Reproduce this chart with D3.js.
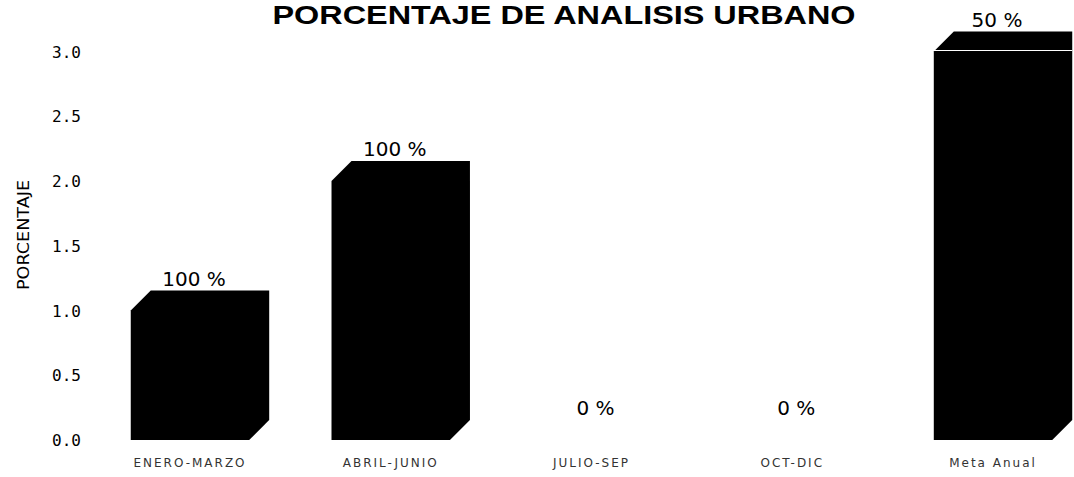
<!DOCTYPE html>
<html>
<head>
<meta charset="utf-8">
<script src="https://cdn.jsdelivr.net/npm/d3@7"></script>
<style>
  html, body { margin: 0; padding: 0; background: #fff; overflow: hidden; }
</style>
</head>
<body>
<div id="chart"></div>
<script>
// data
const categories = ["ENERO-MARZO", "ABRIL-JUNIO", "JULIO-SEP", "OCT-DIC", "Meta Anual"];
const values = [1, 2, 0, 0, 3];
const valueLabels = ["100 %", "100 %", "0 %", "0 %", "50 %"];
const yTicks = [0, 0.5, 1, 1.5, 2, 2.5, 3];

const W = 1074, H = 477;
const depth = 20; // 3d offset of the boxes

const svg = d3.select("#chart").append("svg")
  .attr("width", W)
  .attr("height", H);

const x = d3.scaleBand()
  .domain(categories)
  .range([89.6, 1093.4])
  .paddingInner(0.41)
  .paddingOuter(0.205);

const y = d3.scaleLinear()
  .domain([0, 3])
  .range([440, 51.5]);

// title sits right at the top edge
svg.append("text")
  .attr("x", 564)
  .attr("y", 24)
  .attr("text-anchor", "middle")
  .attr("font-family", "Liberation Sans, Arial, sans-serif")
  .attr("font-weight", "bold")
  .attr("font-size", 25)
  .attr("textLength", 583)
  .attr("lengthAdjust", "spacingAndGlyphs")
  .text("PORCENTAJE DE ANALISIS URBANO");

// y axis, no line, only labels
const yAxis = d3.axisLeft(y)
  .tickValues(yTicks)
  .tickFormat(d3.format(".1f"))
  .tickSize(0)
  .tickPadding(0);

const gy = svg.append("g")
  .attr("transform", "translate(81,0)")
  .call(yAxis);
gy.select(".domain").remove();
gy.selectAll("text")
  .attr("font-family", "DejaVu Sans Mono, monospace")
  .attr("font-size", 16)
  .attr("fill", "#000")
  .attr("dy", "0.35em");

svg.append("text")
  .attr("transform", "translate(29,235)rotate(-90)")
  .attr("text-anchor", "middle")
  .attr("font-family", "DejaVu Sans, sans-serif")
  .attr("font-size", 15)
  .attr("textLength", 110)
  .attr("lengthAdjust", "spacingAndGlyphs")
  .text("PORCENTAJE");

// boxes
const bars = categories.map((c, i) => ({ cat: c, v: values[i], lab: valueLabels[i] }));

svg.append("g").selectAll("path")
  .data(bars.filter(d => d.v > 0))
  .enter().append("path")
  .attr("d", d => {
    const x0 = x(d.cat), w = x.bandwidth();
    const yt = y(d.v), yb = y(0);
    return `M${x0},${yt}L${x0 + depth},${yt - depth}L${x0 + w + depth},${yt - depth}` +
      `L${x0 + w + depth},${yb - depth}L${x0 + w},${yb}L${x0},${yb}Z`;
  })
  .attr("fill", "#000");

// thin white seam under the top face of the tallest box
svg.append("g").selectAll("line")
  .data(bars.filter(d => d.v === d3.max(values)))
  .enter().append("line")
  .attr("x1", d => x(d.cat))
  .attr("x2", d => x(d.cat) + x.bandwidth() + depth)
  .attr("y1", d => y(d.v) - 1)
  .attr("y2", d => y(d.v) - 1)
  .attr("stroke", "#fff")
  .attr("stroke-width", 1);

// value labels
svg.append("g").selectAll("text")
  .data(bars)
  .enter().append("text")
  .attr("x", d => x(d.cat) + x.bandwidth() / 2 + 4)
  .attr("y", d => y(d.v) - depth - 5)
  .attr("text-anchor", "middle")
  .attr("font-family", "DejaVu Sans, sans-serif")
  .attr("font-size", 20)
  .attr("fill", "#000")
  .text(d => d.lab);

// category labels
const xAxis = d3.axisBottom(x).tickSize(0).tickPadding(0);
const gx = svg.append("g")
  .attr("transform", "translate(0,458)")
  .call(xAxis);
gx.select(".domain").remove();
gx.selectAll("text")
  .attr("font-family", "DejaVu Sans, sans-serif")
  .attr("font-size", 12)
  .attr("letter-spacing", "2px")
  .attr("fill", "#333")
  .attr("dy", "0.71em");
</script>
</body>
</html>
